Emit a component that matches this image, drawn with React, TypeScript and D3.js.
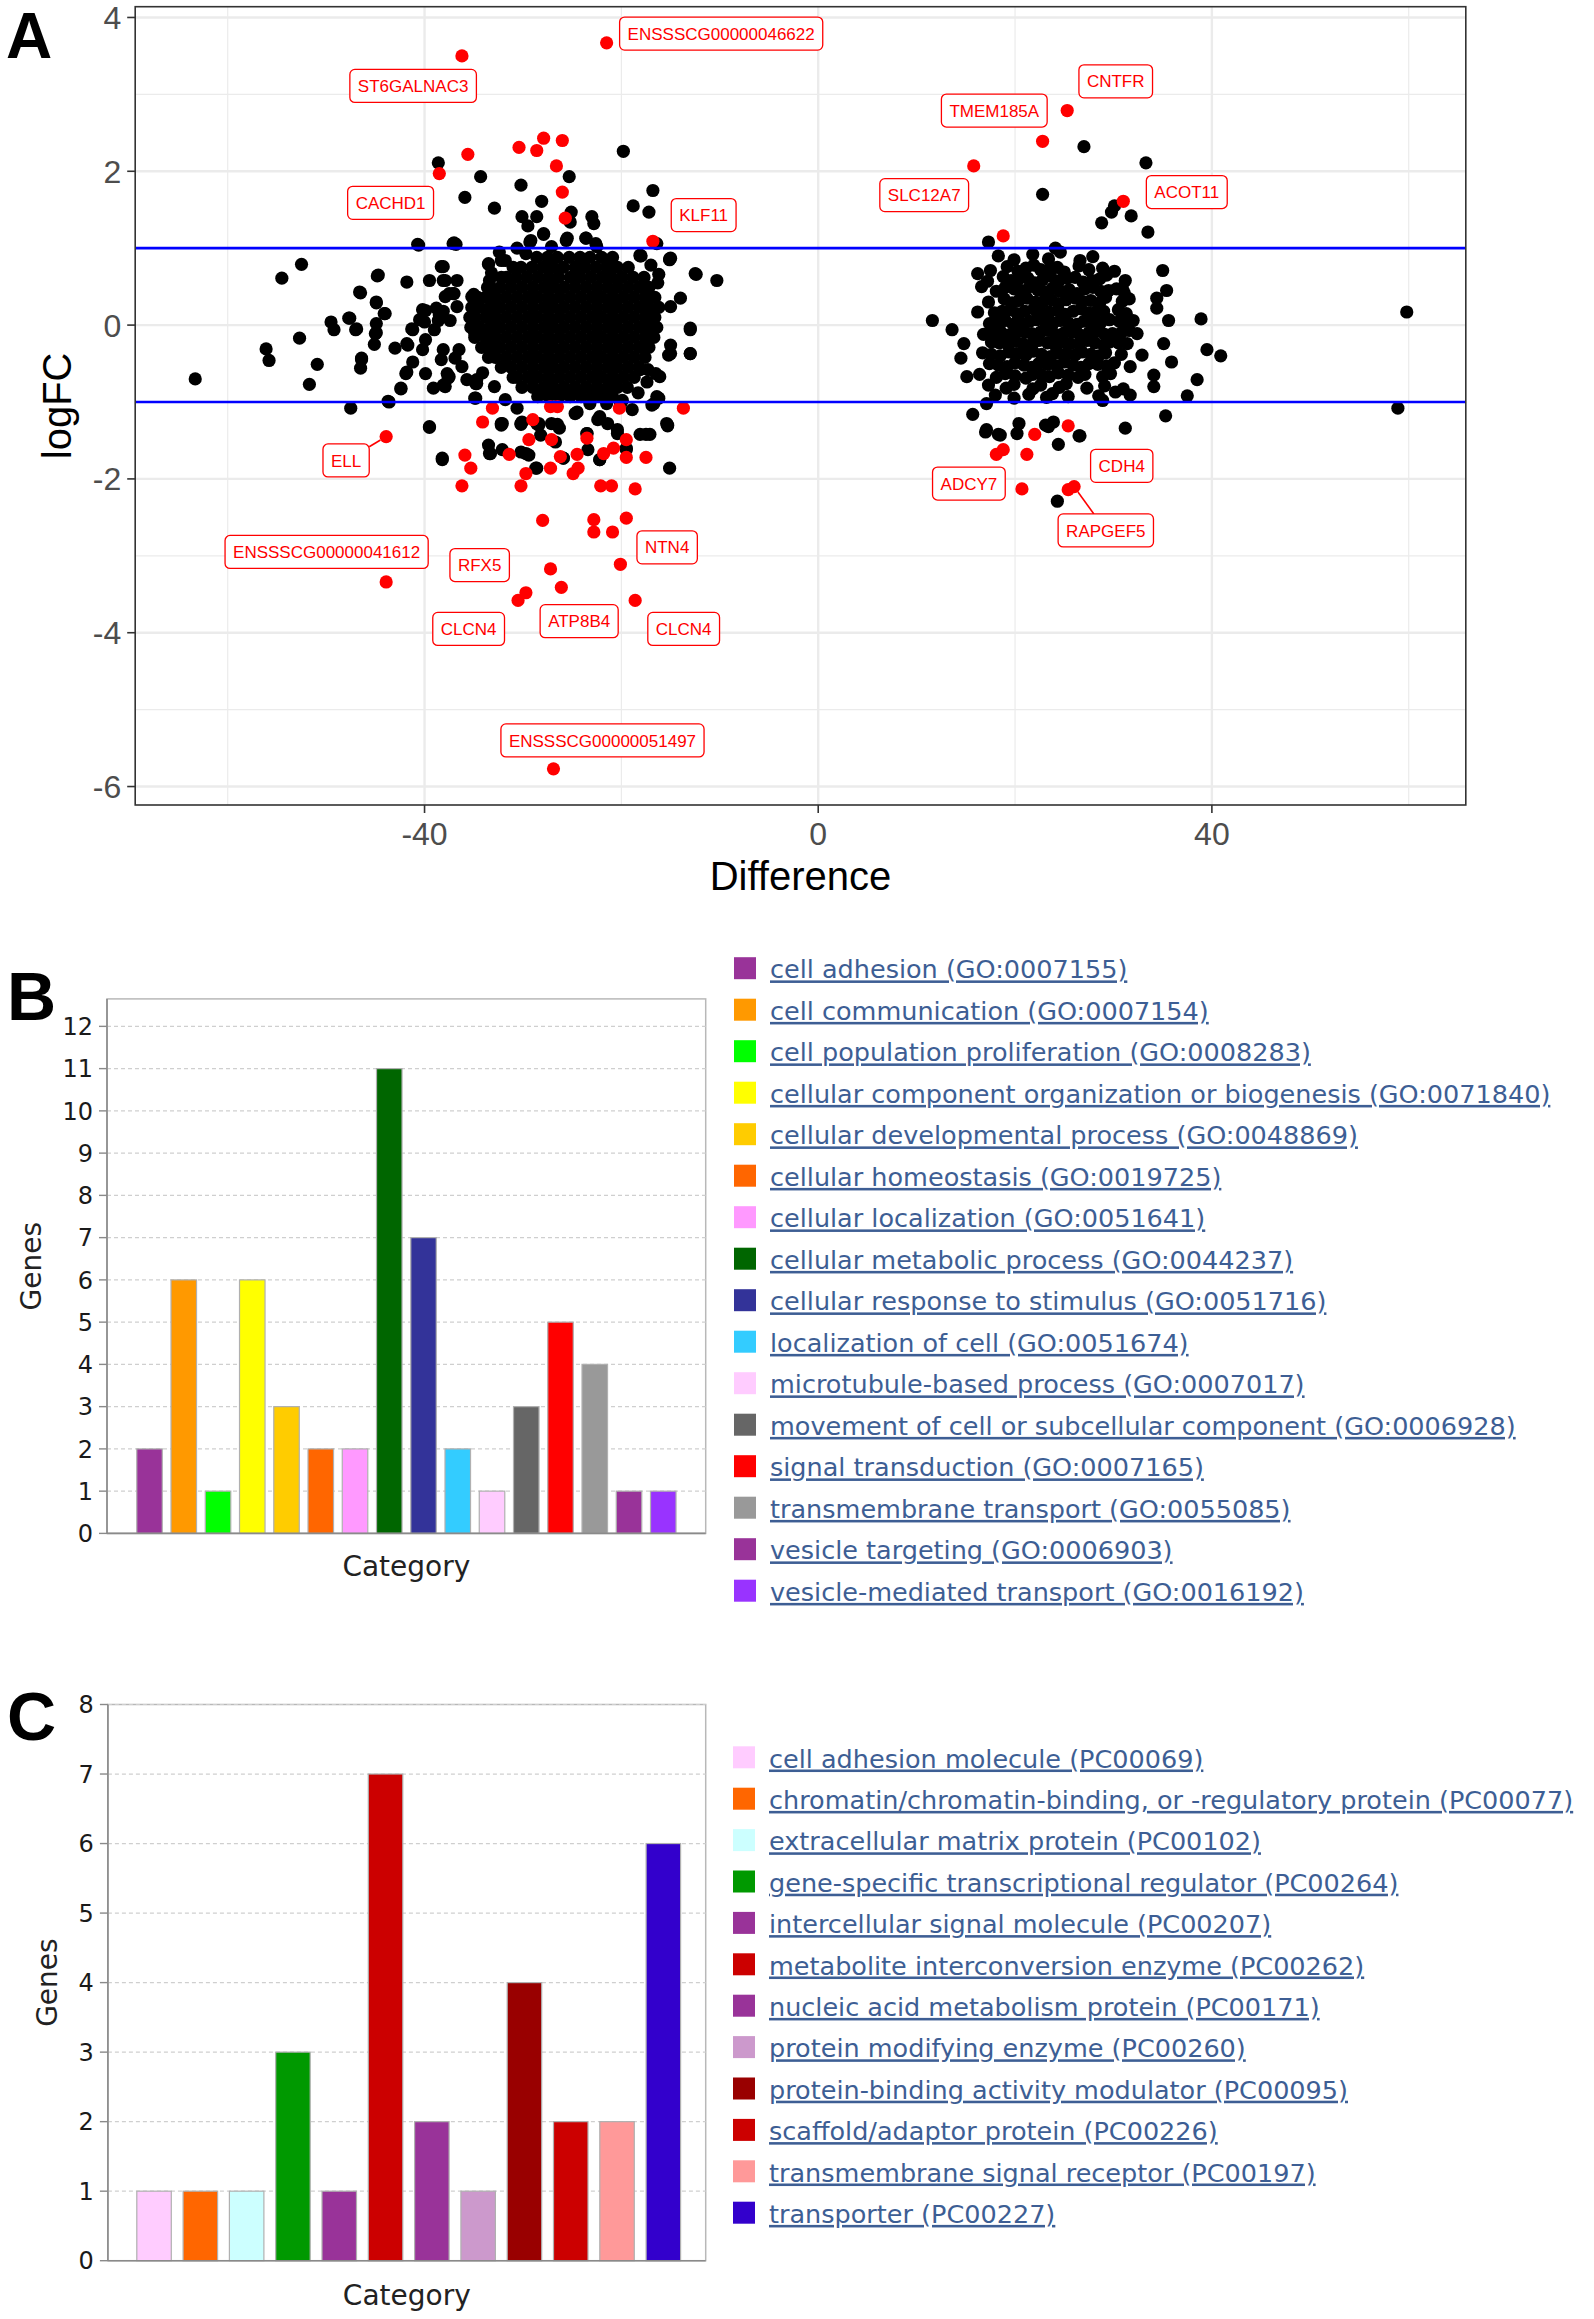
import React, { useMemo } from 'react';
import * as d3 from 'd3';

const W = 1594;
const H = 2319;

// ---------------- Panel A data ----------------
const xTicksA = [-40, 0, 40];
const yTicksA = [-6, -4, -2, 0, 2, 4];
const xMinorA = [-60, -20, 20, 60];
const yMinorA = [-5, -3, -1, 1, 3];
const cutoffLines = [-1, 1];

// sparse / halo black points (Difference, logFC)
const blackPoints: [number, number][] = [
  [-38.6, 2.11], [-34.3, 1.93], [-30.2, 1.82], [-25.3, 1.93], [-19.8, 2.26], [-35.9, 1.66], [-32.9, 1.52], [-28.1, 1.61],
  [-30.1, 1.41], [-28.6, 1.41], [-29.5, 1.29], [-25.1, 1.47], [-25.2, 1.34], [-23.0, 1.41], [-22.8, 1.32], [-16.8, 1.75],
  [-18.8, 1.55], [-17.2, 1.47], [-27.9, 1.18], [-29.3, 1.08], [-25.5, 1.13], [-23.6, 1.13], [-22.6, 1.06], [-40.7, 1.05],
  [-37.0, 1.07], [-36.8, 1.05], [-16.4, 1.06], [-18.0, 0.90], [-15.1, 0.86], [-52.5, 0.79], [-54.5, 0.61], [-12.4, 0.66],
  [-10.3, 0.58], [-44.7, 0.65], [-46.5, 0.42], [-41.8, 0.56], [-38.3, 0.76], [-39.5, 0.58], [-38.1, 0.58], [-36.7, 0.58],
  [-44.9, 0.29], [-44.0, 0.15], [-47.7, 0.09], [-49.5, 0.04], [-46.9, -0.05], [-44.9, 0.02], [-44.9, -0.10], [-41.3, -0.05],
  [-40.2, 0.20], [-38.8, 0.22], [-37.9, 0.37], [-37.0, 0.41], [-40.0, 0.04], [-38.6, 0.06], [-35.0, 0.40], [-33.5, 0.79],
  [-32.2, 0.84], [-33.4, 0.58], [-14.0, 0.35], [-13.0, -0.04], [-15.0, 0.24], [-16.2, 0.66], [-52.7, -0.17],
  [-63.3, -0.70], [-56.1, -0.31], [-55.8, -0.46], [-50.9, -0.51], [-51.7, -0.77], [-47.5, -1.08], [-43.7, -0.99], [-42.4, -0.83],
  [-46.4, -0.43], [-46.5, -0.56], [-43.0, -0.30], [-41.7, -0.26], [-41.2, -0.48], [-41.8, -0.61], [-39.9, -0.63], [-39.1, -0.82],
  [-38.1, -0.78], [-37.6, -0.69], [-38.3, -0.45], [-39.9, -0.19], [-34.8, -0.76], [-34.8, -0.95], [-39.5, -1.33], [-38.2, -1.73],
  [-32.2, -1.28], [-33.5, -1.56], [-33.3, -1.67], [-32.1, -1.62], [-30.2, -1.65], [-29.4, -1.69], [-30.2, -1.28], [-28.4, -1.28],
  [-28.2, -1.43], [-28.6, -1.86], [-27.1, -1.28], [-26.3, -1.34], [-26.7, -1.52], [-25.9, -1.73], [-24.7, -1.15], [-23.5, -1.41],
  [-22.4, -1.23], [-23.4, -1.62], [-22.2, -1.75], [-21.4, -1.28], [-20.4, -1.36], [-18.9, -1.10], [-19.5, -1.60], [-18.1, -1.42],
  [-17.1, -1.42], [-15.3, -1.30], [-15.1, -1.86], [-16.9, -1.04], [-16.2, -0.95], [-13.0, -0.37], [-15.0, -0.26], [-15.2, -0.39],
  [-13.0, -0.06], [-16.5, -0.63], [-17.3, -0.58], [-20.1, -1.04],
  [-49.2, -0.06], [-47.6, 0.09], [-47.0, -0.06], [-46.6, 0.43], [-44.9, 0.30], [-44.8, 0.64], [-44.1, 0.15], [-45.0, -0.11],
  [-45.1, -0.25], [-46.4, -0.45], [-43.6, -1.00], [-41.2, -0.06], [-41.8, -0.24], [-42.4, -0.82], [-41.9, -0.63], [-40.5, 0.07],
  [-39.9, 0.19], [-40.2, -0.32], [-39.0, -0.06], [-38.5, 0.13], [-37.5, 0.41], [-37.5, -0.67], [-36.7, 0.24], [-36.5, -0.32],
  [-36.2, -0.54], [-35.2, 0.37], [-34.9, -0.11], [-34.7, -0.71], [-34.9, -0.95],
  [-40.6, 1.04], [-37.1, 1.06], [-29.2, 1.10], [-27.9, 1.19], [-25.6, 1.10], [-23.6, 1.13], [-22.5, 1.02], [-18.1, 0.90],
  [-15.1, 0.85], [-21.4, 0.84], [-33.5, 0.80], [-31.8, 0.84], [-27.1, 1.02], [-29.7, 0.93],
  [-38.1, 0.76], [-37.9, 0.58], [-37.1, 0.41], [-38.1, 0.18], [-37.4, 0.06], [-38.1, -0.32], [-36.9, -0.43], [-37.7, -0.63],
  [-35.7, -0.71], [-34.7, -0.76], [-37.9, -0.80], [-18.1, 0.91], [-15.0, 0.87], [-12.5, 0.67], [-13.0, -0.37], [-15.0, -0.37],
  [-16.1, -0.67], [-16.4, -0.93], [-18.1, -0.58],
  [-32.1, -1.28], [-30.1, -1.26], [-28.6, -1.28], [-30.6, -1.08], [-24.5, -1.13], [-23.2, -1.02], [-21.5, -1.02], [-22.2, -1.19],
  [-16.7, -1.02], [-15.4, -1.28],
  [-39.5, -1.32], [-38.2, -1.75], [-32.2, -1.30], [-30.2, -1.29], [-28.4, -1.30], [-26.5, -1.29], [-23.5, -1.41], [-20.4, -1.41],
  [-17.5, -1.42], [-19.5, -1.62], [-22.2, -1.75], [-25.9, -1.73], [-28.7, -1.86], [-15.3, -1.31], [-33.4, -1.67], [-29.7, -1.67],
  [-33.2, 0.68], [-32.4, 0.95], [-30.6, 1.00], [-17.0, 0.78], [-16.3, 0.55], [-34.1, -0.62], [-32.9, -0.80], [-31.8, -0.97],
  [-18.3, -0.88], [-17.4, -0.74], [-19.9, -0.98],
  [59.8, 0.17], [58.9, -1.08],
  [27.0, 2.32], [33.3, 2.11], [22.8, 1.70], [30.1, 1.55], [29.8, 1.47], [28.8, 1.33], [31.8, 1.42], [33.5, 1.21],
  [17.3, 1.08], [24.1, 1.00], [35.0, 0.71], [35.4, 0.45], [34.4, 0.35], [34.4, 0.22], [38.9, 0.08], [35.6, 0.06],
  [11.6, 0.06], [13.6, -0.06], [16.2, 0.17], [16.2, 0.67], [16.6, 0.50], [14.8, -0.24], [14.5, -0.43], [15.1, -0.67],
  [39.5, -0.32], [40.9, -0.40], [38.5, -0.71], [37.5, -0.92], [35.3, -1.18], [31.2, -1.34], [26.6, -1.44], [24.4, -1.55],
  [24.3, -2.29], [15.7, -1.16], [17.1, -1.02], [17.1, -1.36], [18.3, -1.42], [20.2, -1.41], [20.4, -1.28], [23.1, -1.30],
  [23.9, -1.26], [28.9, -0.98], [30.2, -0.87], [31.7, -0.91], [34.1, -0.65], [34.1, -0.80], [32.9, -0.39], [35.9, -0.48],
  [35.1, -0.24], [32.4, -0.11], [30.9, 0.48], [17.0, -1.39], [18.5, -1.43], [23.4, -1.32], [26.5, -1.44],
];

// dense core of the left cluster, read row by row
const leftCoreRows: { y: number; xs: number[] }[] = [
  { y: 0.88, xs: [-28.6, -27.5, -26.5, -25.3, -24.2, -23.2, -22.0, -20.9] },
  { y: 0.75, xs: [-31.0, -30.2, -29.1, -28.0, -27.0, -25.9, -24.7, -23.7, -22.6, -21.5, -20.4, -19.3] },
  { y: 0.62, xs: [-32.2, -31.7, -30.7, -29.6, -28.5, -27.4, -26.4, -25.2, -24.2, -23.1, -22.0, -21.0, -19.9, -18.8, -17.7] },
  { y: 0.49, xs: [-33.6, -33.3, -32.3, -31.2, -30.1, -29.0, -27.9, -26.9, -25.8, -24.7, -23.6, -22.5, -21.4, -20.4, -19.3, -18.2, -17.2] },
  { y: 0.36, xs: [-34.6, -33.8, -32.8, -31.7, -30.6, -29.5, -28.5, -27.4, -26.3, -25.2, -24.1, -23.0, -22.0, -20.9, -19.8, -18.7, -17.6, -16.6] },
  { y: 0.23, xs: [-35.2, -34.4, -33.3, -32.3, -31.2, -30.1, -29.0, -27.9, -26.9, -25.8, -24.7, -23.6, -22.5, -21.4, -20.4, -19.3, -18.2, -17.2, -16.2] },
  { y: 0.10, xs: [-35.4, -34.9, -33.8, -32.8, -31.7, -30.6, -29.5, -28.5, -27.4, -26.3, -25.2, -24.1, -23.0, -22.0, -20.9, -19.8, -18.7, -17.6, -16.6] },
  { y: -0.03, xs: [-35.3, -34.4, -33.3, -32.3, -31.2, -30.1, -29.0, -27.9, -26.9, -25.8, -24.7, -23.6, -22.5, -21.4, -20.4, -19.3, -18.2, -17.2, -16.4] },
  { y: -0.16, xs: [-34.9, -33.8, -32.8, -31.7, -30.6, -29.5, -28.5, -27.4, -26.3, -25.2, -24.1, -23.0, -22.0, -20.9, -19.8, -18.7, -17.6, -16.7] },
  { y: -0.29, xs: [-34.2, -33.3, -32.3, -31.2, -30.1, -29.0, -27.9, -26.9, -25.8, -24.7, -23.6, -22.5, -21.4, -20.4, -19.3, -18.2, -17.2] },
  { y: -0.42, xs: [-33.5, -32.8, -31.7, -30.6, -29.5, -28.5, -27.4, -26.3, -25.2, -24.1, -23.0, -22.0, -20.9, -19.8, -18.7, -17.6] },
  { y: -0.55, xs: [-32.2, -31.2, -30.1, -29.0, -27.9, -26.9, -25.8, -24.7, -23.6, -22.5, -21.4, -20.4, -19.3, -18.2] },
  { y: -0.68, xs: [-31.0, -30.6, -29.5, -28.5, -27.4, -26.3, -25.2, -24.1, -23.0, -22.0, -20.9, -19.8, -18.7] },
  { y: -0.81, xs: [-30.1, -29.0, -27.9, -26.9, -25.8, -24.7, -23.6, -22.5, -21.4, -20.4, -19.4] },
  { y: -0.93, xs: [-28.5, -27.4, -26.3, -25.2, -24.1, -23.0, -22.0, -20.9] },
];

// dense core of the right cluster
const rightCorePoints: [number, number][] = [
  [18.3, 0.90], [19.9, 0.85], [21.8, 0.92], [23.4, 0.86], [24.6, 0.95], [26.6, 0.84], [27.9, 0.89],
  [17.5, 0.71], [19.2, 0.76], [20.3, 0.70], [21.9, 0.78], [22.6, 0.72], [24.3, 0.75], [25.0, 0.69], [26.5, 0.77], [27.5, 0.72], [28.9, 0.74], [30.1, 0.70],
  [17.2, 0.57], [18.8, 0.63], [19.6, 0.58], [21.3, 0.61], [22.0, 0.55], [23.6, 0.64], [24.5, 0.58], [26.1, 0.62], [26.9, 0.56], [28.6, 0.60], [29.3, 0.65], [31.2, 0.58],
  [18.1, 0.44], [19.0, 0.49], [20.7, 0.45], [21.5, 0.50], [23.1, 0.43], [23.8, 0.48], [25.5, 0.46], [26.3, 0.41], [27.9, 0.49], [28.7, 0.44], [30.3, 0.47], [31.1, 0.42],
  [17.3, 0.30], [18.9, 0.34], [19.7, 0.29], [21.2, 0.35], [22.1, 0.30], [23.7, 0.33], [24.4, 0.28], [26.1, 0.35], [26.8, 0.31], [28.6, 0.29], [29.2, 0.36], [30.9, 0.31], [31.6, 0.34],
  [17.9, 0.16], [19.5, 0.20], [20.2, 0.15], [21.9, 0.21], [22.6, 0.17], [24.4, 0.19], [25.1, 0.14], [26.7, 0.21], [27.4, 0.16], [29.0, 0.18], [30.5, 0.20], [31.3, 0.15],
  [17.4, 0.02], [19.0, 0.06], [19.8, 0.01], [21.5, 0.05], [22.2, 0.07], [23.9, 0.03], [24.6, 0.06], [26.3, 0.01], [27.0, 0.05], [28.7, 0.03], [29.6, 0.07], [31.3, 0.02], [32.0, 0.06],
  [16.8, -0.12], [18.5, -0.08], [19.3, -0.13], [21.0, -0.09], [21.7, -0.11], [23.4, -0.07], [24.1, -0.12], [25.8, -0.09], [26.6, -0.13], [28.3, -0.08], [29.1, -0.12], [30.8, -0.10], [31.6, -0.07],
  [17.6, -0.22], [19.3, -0.26], [20.0, -0.21], [21.7, -0.25], [22.4, -0.20], [24.1, -0.27], [24.8, -0.22], [26.5, -0.25], [27.3, -0.20], [29.0, -0.26], [29.6, -0.22], [31.4, -0.24],
  [16.7, -0.36], [18.5, -0.40], [19.4, -0.35], [21.1, -0.39], [21.8, -0.34], [23.6, -0.41], [24.3, -0.36], [26.1, -0.39], [26.8, -0.35], [28.5, -0.40], [29.2, -0.36], [30.8, -0.38],
  [17.4, -0.50], [19.2, -0.54], [20.0, -0.49], [21.7, -0.55], [22.4, -0.50], [24.2, -0.53], [25.0, -0.48], [26.7, -0.55], [27.5, -0.50], [29.3, -0.53], [30.1, -0.49], [31.7, -0.54],
  [16.4, -0.64], [18.1, -0.68], [19.0, -0.63], [21.1, -0.69], [21.8, -0.64], [23.5, -0.67], [24.4, -0.62], [26.4, -0.68], [27.1, -0.64], [28.9, -0.67], [29.7, -0.63],
  [17.3, -0.78], [19.1, -0.82], [19.9, -0.77], [21.8, -0.83], [22.6, -0.78], [24.5, -0.81], [25.2, -0.76], [27.3, -0.82], [29.1, -0.79], [31.0, -0.83],
  [18.0, -0.91], [19.9, -0.95], [21.4, -0.90], [23.2, -0.94], [23.8, -0.89], [25.4, -0.93], [28.5, -0.92],
  // denser middle of the right cluster
  [21.1, 0.74], [23.5, 0.73],
  [20.4, 0.60], [22.8, 0.59], [25.3, 0.61], [27.8, 0.58],
  [19.9, 0.47], [22.3, 0.46], [24.6, 0.44], [27.1, 0.47], [29.5, 0.45],
  [20.4, 0.32], [22.9, 0.31], [25.2, 0.33], [27.7, 0.32],
  [18.7, 0.18], [21.0, 0.18], [23.5, 0.17], [25.9, 0.18], [28.2, 0.17],
  [18.2, 0.04], [20.6, 0.03], [23.0, 0.05], [25.4, 0.03], [27.8, 0.04], [30.6, 0.05],
  [17.7, -0.10], [20.1, -0.10], [22.6, -0.09], [25.0, -0.10], [27.5, -0.10], [29.9, -0.11],
  [18.4, -0.23], [20.8, -0.24], [23.3, -0.23], [25.6, -0.24], [28.1, -0.23], [30.5, -0.23],
  [17.6, -0.38], [20.2, -0.37], [22.7, -0.38], [25.2, -0.37], [27.7, -0.38],
  [18.3, -0.52], [20.9, -0.52], [23.3, -0.51], [25.9, -0.52], [28.4, -0.51],
  [20.0, -0.66], [22.7, -0.65], [25.4, -0.65],
];

const redPoints: [number, number][] = [
  [-36.2, 3.50], [-21.5, 3.67], [-35.6, 2.22], [-38.5, 1.97], [-30.4, 2.31], [-27.9, 2.43], [-28.6, 2.27], [-26.0, 2.40],
  [-26.6, 2.07], [-26.0, 1.73], [-25.7, 1.39], [-16.8, 1.09],
  [-43.9, -1.45], [-33.1, -1.08], [-34.1, -1.26], [-35.9, -1.69], [-35.3, -1.86], [-36.2, -2.09], [-31.4, -1.68], [-30.2, -2.09],
  [-29.7, -1.93], [-29.4, -1.49], [-29.0, -1.23], [-27.2, -1.06], [-26.5, -1.06], [-27.1, -1.49], [-27.2, -1.86], [-26.2, -1.71],
  [-24.9, -1.93], [-24.4, -1.86], [-24.5, -1.68], [-21.8, -1.67], [-20.8, -1.60], [-22.1, -2.09], [-21.0, -2.09], [-18.6, -2.13],
  [-19.5, -1.72], [-17.5, -1.72], [-19.5, -1.49], [-20.2, -1.08], [-13.7, -1.08], [-23.5, -1.47], [-28.0, -2.54], [-22.8, -2.53],
  [-22.8, -2.69], [-20.9, -2.69], [-19.5, -2.51], [-20.1, -3.11], [-27.2, -3.17], [-26.1, -3.41], [-29.7, -3.48], [-30.5, -3.58],
  [-18.6, -3.58], [-43.9, -3.34], [-26.9, -5.77],
  [25.3, 2.79], [22.8, 2.39], [15.8, 2.07], [31.0, 1.61], [18.8, 1.16], [25.4, -1.31], [22.0, -1.42], [21.2, -1.68],
  [18.8, -1.62], [18.1, -1.68], [20.7, -2.13], [26.0, -2.10], [25.4, -2.14],
];

// gene labels: point (px, py) and label centre (lx, ly), both in data units
const geneLabels = [
  { name: 'ENSSSCG00000046622', px: -21.5, py: 3.67, lx: -9.86, ly: 3.79, seg: false },
  { name: 'ST6GALNAC3', px: -36.2, py: 3.50, lx: -41.16, ly: 3.11, seg: false },
  { name: 'CACHD1', px: -38.5, py: 1.97, lx: -43.45, ly: 1.59, seg: false },
  { name: 'KLF11', px: -16.8, py: 1.09, lx: -11.64, ly: 1.43, seg: false },
  { name: 'ELL', px: -43.9, py: -1.45, lx: -47.97, ly: -1.76, seg: true },
  { name: 'ENSSSCG00000041612', px: -43.9, py: -3.34, lx: -49.95, ly: -2.95, seg: false },
  { name: 'RFX5', px: -27.2, py: -3.17, lx: -34.4, ly: -3.12, seg: false },
  { name: 'CLCN4', px: -30.5, py: -3.58, lx: -35.52, ly: -3.95, seg: false },
  { name: 'ATP8B4', px: -26.1, py: -3.41, lx: -24.29, ly: -3.85, seg: false },
  { name: 'CLCN4', px: -18.6, py: -3.58, lx: -13.67, ly: -3.95, seg: false },
  { name: 'NTN4', px: -20.1, py: -3.11, lx: -15.35, ly: -2.89, seg: false },
  { name: 'ENSSSCG00000051497', px: -26.9, py: -5.77, lx: -21.92, ly: -5.4, seg: false },
  { name: 'CNTFR', px: 25.3, py: 2.79, lx: 30.23, ly: 3.17, seg: false },
  { name: 'TMEM185A', px: 22.8, py: 2.39, lx: 17.89, ly: 2.79, seg: false },
  { name: 'SLC12A7', px: 15.8, py: 2.07, lx: 10.77, ly: 1.69, seg: false },
  { name: 'ACOT11', px: 31.0, py: 1.61, lx: 37.45, ly: 1.73, seg: false },
  { name: 'CDH4', px: 25.4, py: -1.31, lx: 30.84, ly: -1.83, seg: false },
  { name: 'ADCY7', px: 20.7, py: -2.13, lx: 15.31, ly: -2.06, seg: false },
  { name: 'RAPGEF5', px: 26.0, py: -2.10, lx: 29.22, ly: -2.67, seg: true },
];

// ---------------- Panel B data ----------------
const goCategories = [
  'cell adhesion (GO:0007155)',
  'cell communication (GO:0007154)',
  'cell population proliferation (GO:0008283)',
  'cellular component organization or biogenesis (GO:0071840)',
  'cellular developmental process (GO:0048869)',
  'cellular homeostasis (GO:0019725)',
  'cellular localization (GO:0051641)',
  'cellular metabolic process (GO:0044237)',
  'cellular response to stimulus (GO:0051716)',
  'localization of cell (GO:0051674)',
  'microtubule-based process (GO:0007017)',
  'movement of cell or subcellular component (GO:0006928)',
  'signal transduction (GO:0007165)',
  'transmembrane transport (GO:0055085)',
  'vesicle targeting (GO:0006903)',
  'vesicle-mediated transport (GO:0016192)',
];
const goCounts = [2, 6, 1, 6, 3, 2, 2, 11, 7, 2, 1, 3, 5, 4, 1, 1];
const goColors = [
  '#993399', '#FF9900', '#00FF00', '#FFFF00', '#FFCC00', '#FF6600', '#FF99FF', '#006600',
  '#333399', '#33CCFF', '#FFCCFF', '#666666', '#FF0000', '#999999', '#993399', '#9933FF',
];
const goTicks = d3.range(0, 13);

// ---------------- Panel C data ----------------
const pcCategories = [
  'cell adhesion molecule (PC00069)',
  'chromatin/chromatin-binding, or -regulatory protein (PC00077)',
  'extracellular matrix protein (PC00102)',
  'gene-specific transcriptional regulator (PC00264)',
  'intercellular signal molecule (PC00207)',
  'metabolite interconversion enzyme (PC00262)',
  'nucleic acid metabolism protein (PC00171)',
  'protein modifying enzyme (PC00260)',
  'protein-binding activity modulator (PC00095)',
  'scaffold/adaptor protein (PC00226)',
  'transmembrane signal receptor (PC00197)',
  'transporter (PC00227)',
];
const pcCounts = [1, 1, 1, 3, 1, 7, 2, 1, 4, 2, 2, 6];
const pcColors = [
  '#FFCCFF', '#FF6600', '#CCFFFF', '#009900', '#993399', '#CC0000',
  '#993399', '#CC99CC', '#990000', '#CC0000', '#FF9999', '#3300CC',
];
const pcTicks = d3.range(0, 9);

const SANS_A = "'Liberation Sans', Arial, Helvetica, sans-serif";
const SANS_B = "'DejaVu Sans', Verdana, sans-serif";

function measureText(text: string, font: string): number {
  if (typeof document === 'undefined') return text.length * 9;
  const c = document.createElement('canvas').getContext('2d');
  if (!c) return text.length * 9;
  c.font = font;
  return c.measureText(text).width;
}

function PanelA() {
  const left = 135.2, right = 1465.8, top = 6.7, bottom = 805;
  const x = d3.scaleLinear().domain([-69.4, 65.8]).range([left, right]);
  const y = d3.scaleLinear().domain([-6.24, 4.14]).range([bottom, top]);
  const r = 6.6;
  const labelFontSize = 17;
  const padX = 8;
  const boxH = 33;

  const corePts: [number, number][] = useMemo(() => {
    const out: [number, number][] = [];
    leftCoreRows.forEach((row) => row.xs.forEach((v) => out.push([v, row.y])));
    rightCorePoints.forEach((p) => out.push(p));
    return out;
  }, []);

  const labels = useMemo(
    () =>
      geneLabels.map((l) => {
        const tw = measureText(l.name, `${labelFontSize}px ${SANS_A}`);
        const w = tw + padX * 2;
        const cx = x(l.lx);
        const cy = y(l.ly);
        const px = x(l.px);
        const py = y(l.py);
        let seg: null | { x1: number; y1: number; x2: number; y2: number } = null;
        if (l.seg) {
          const dx = px - cx;
          const dy = py - cy;
          const tx = Math.abs(dx) > 0 ? (w / 2) / Math.abs(dx) : Infinity;
          const ty = Math.abs(dy) > 0 ? (boxH / 2) / Math.abs(dy) : Infinity;
          const t = Math.min(tx, ty);
          const dist = Math.hypot(dx, dy);
          const shrink = (dist - r) / dist;
          seg = { x1: cx + dx * t, y1: cy + dy * t, x2: cx + dx * shrink, y2: cy + dy * shrink };
        }
        return { ...l, w, cx, cy, seg };
      }),
    []
  );

  return (
    <g>
      <text x={6} y={58} fontFamily={SANS_A} fontWeight="bold" fontSize={64} fill="#000">A</text>
      <defs>
        <clipPath id="clipA">
          <rect x={left} y={top} width={right - left} height={bottom - top} />
        </clipPath>
      </defs>
      <rect x={left} y={top} width={right - left} height={bottom - top} fill="#fff" />
      <g clipPath="url(#clipA)">
        {xMinorA.map((v) => (
          <line key={'xm' + v} x1={x(v)} x2={x(v)} y1={top} y2={bottom} stroke="#EBEBEB" strokeWidth={1.2} />
        ))}
        {yMinorA.map((v) => (
          <line key={'ym' + v} x1={left} x2={right} y1={y(v)} y2={y(v)} stroke="#EBEBEB" strokeWidth={1.2} />
        ))}
        {xTicksA.map((v) => (
          <line key={'xM' + v} x1={x(v)} x2={x(v)} y1={top} y2={bottom} stroke="#EBEBEB" strokeWidth={2.4} />
        ))}
        {yTicksA.map((v) => (
          <line key={'yM' + v} x1={left} x2={right} y1={y(v)} y2={y(v)} stroke="#EBEBEB" strokeWidth={2.4} />
        ))}
        {corePts.map((p, i) => (
          <circle key={'c' + i} cx={x(p[0])} cy={y(p[1])} r={r} fill="#000" />
        ))}
        {blackPoints.map((p, i) => (
          <circle key={'b' + i} cx={x(p[0])} cy={y(p[1])} r={r} fill="#000" />
        ))}
        {redPoints.map((p, i) => (
          <circle key={'r' + i} cx={x(p[0])} cy={y(p[1])} r={r} fill="#FF0000" />
        ))}
        {cutoffLines.map((v) => (
          <line key={'h' + v} x1={left} x2={right} y1={y(v)} y2={y(v)} stroke="#0000FF" strokeWidth={2.7} />
        ))}
        {labels.map((l, i) => (
          <g key={'l' + i}>
            {l.seg && (
              <line x1={l.seg.x1} y1={l.seg.y1} x2={l.seg.x2} y2={l.seg.y2} stroke="#FF0000" strokeWidth={1.6} />
            )}
            <rect x={l.cx - l.w / 2} y={l.cy - boxH / 2} width={l.w} height={boxH} rx={5} ry={5}
              fill="#fff" stroke="#FF0000" strokeWidth={1.3} />
            <text x={l.cx} y={l.cy} dy="0.36em" textAnchor="middle" fontFamily={SANS_A} fontSize={labelFontSize} fill="#FF0000">
              {l.name}
            </text>
          </g>
        ))}
      </g>
      <rect x={left} y={top} width={right - left} height={bottom - top} fill="none" stroke="#333333" strokeWidth={1.6} />
      {xTicksA.map((v) => (
        <g key={'xt' + v}>
          <line x1={x(v)} x2={x(v)} y1={bottom} y2={bottom + 8} stroke="#333333" strokeWidth={1.6} />
          <text x={x(v)} y={845} textAnchor="middle" fontFamily={SANS_A} fontSize={32} fill="#4D4D4D">
            {v < 0 ? '-' + Math.abs(v) : String(v)}
          </text>
        </g>
      ))}
      {yTicksA.map((v) => (
        <g key={'yt' + v}>
          <line x1={left - 8} x2={left} y1={y(v)} y2={y(v)} stroke="#333333" strokeWidth={1.6} />
          <text x={left - 14} y={y(v)} dy="0.36em" textAnchor="end" fontFamily={SANS_A} fontSize={32} fill="#4D4D4D">
            {v < 0 ? '-' + Math.abs(v) : String(v)}
          </text>
        </g>
      ))}
      <text x={(left + right) / 2} y={890} textAnchor="middle" fontFamily={SANS_A} fontSize={40} fill="#000">Difference</text>
      <text transform={`translate(71, ${(top + bottom) / 2}) rotate(-90)`} textAnchor="middle" fontFamily={SANS_A} fontSize={40} fill="#000">logFC</text>
    </g>
  );
}

type BarPanelProps = {
  letter: string;
  letterY: number;
  cats: string[];
  counts: number[];
  colors: string[];
  ticks: number[];
  yMax: number;
  box: { left: number; right: number; top: number; bottom: number };
  band: [number, number];
  genesX: number;
  categoryY: number;
  legendX: number;
  legendY0: number;
  legendStep: number;
};

function BarPanel(p: BarPanelProps) {
  const { box } = p;
  const x = d3.scaleBand<string>().domain(p.cats).range(p.band).paddingInner(0.255).paddingOuter(0.1275);
  const y = d3.scaleLinear().domain([0, p.yMax]).range([box.bottom, box.top]);
  const legendY = d3.scaleLinear().domain([0, 1]).range([p.legendY0, p.legendY0 + p.legendStep]);
  return (
    <g>
      <text x={7} y={p.letterY} fontFamily={SANS_A} fontWeight="bold" fontSize={68} fill="#000">{p.letter}</text>
      <rect x={box.left} y={box.top} width={box.right - box.left} height={box.bottom - box.top} fill="#fff" stroke="#b8b8b8" strokeWidth={1.5} />
      {p.ticks.filter((t) => t > 0).map((t) => (
        <line key={'g' + t} x1={box.left} x2={box.right} y1={y(t)} y2={y(t)} stroke="#cfcfcf" strokeWidth={1.2} strokeDasharray="4,3" />
      ))}
      {p.cats.map((c, i) => (
        <rect key={c} x={x(c)} y={y(p.counts[i])} width={x.bandwidth()} height={y(0) - y(p.counts[i])}
          fill={p.colors[i]} stroke="#b0b0b0" strokeWidth={1.2} />
      ))}
      <line x1={box.left} x2={box.left} y1={box.top} y2={box.bottom} stroke="#8a8a8a" strokeWidth={1.6} />
      <line x1={box.left} x2={box.right} y1={box.bottom} y2={box.bottom} stroke="#8a8a8a" strokeWidth={1.6} />
      {p.ticks.map((t) => (
        <g key={'t' + t}>
          <line x1={box.left - 8} x2={box.left} y1={y(t)} y2={y(t)} stroke="#8a8a8a" strokeWidth={1.4} />
          <text x={box.left - 14} y={y(t)} dy="0.36em" textAnchor="end" fontFamily={SANS_B} fontSize={24} fill="#1a1a1a">{t}</text>
        </g>
      ))}
      <text transform={`translate(${p.genesX}, ${(box.top + box.bottom) / 2}) rotate(-90)`} textAnchor="middle"
        fontFamily={SANS_B} fontSize={28} fill="#222">Genes</text>
      <text x={(box.left + box.right) / 2} y={p.categoryY} textAnchor="middle" fontFamily={SANS_B} fontSize={28} fill="#222">Category</text>
      {p.cats.map((c, i) => (
        <g key={'lg' + i}>
          <rect x={p.legendX} y={legendY(i) - 11} width={22} height={22} fill={p.colors[i]} />
          <text x={p.legendX + 36} y={legendY(i)} dy="0.4em" fontFamily={SANS_B} fontSize={25.5} fill="#3d5e94"
            style={{ textDecoration: 'underline' }}>{c}</text>
        </g>
      ))}
    </g>
  );
}

export default function App() {
  return (
    <svg width={W} height={H} viewBox={`0 0 ${W} ${H}`} style={{ position: 'absolute', left: 0, top: 0, background: '#fff' }}>
      <rect x={0} y={0} width={W} height={H} fill="#fff" />
      <PanelA />
      <BarPanel
        letter="B" letterY={1020}
        cats={goCategories} counts={goCounts} colors={goColors} ticks={goTicks} yMax={12.65}
        box={{ left: 107, right: 705.7, top: 998.9, bottom: 1533.4 }}
        band={[132.4, 680.4]}
        genesX={41} categoryY={1576}
        legendX={734} legendY0={968.2} legendStep={41.5}
      />
      <BarPanel
        letter="C" letterY={1740}
        cats={pcCategories} counts={pcCounts} colors={pcColors} ticks={pcTicks} yMax={8}
        box={{ left: 107.9, right: 705.7, top: 1704.5, bottom: 2260.7 }}
        band={[130.9, 686.5]}
        genesX={57} categoryY={2305}
        legendX={733} legendY0={1757.3} legendStep={41.4}
      />
    </svg>
  );
}
